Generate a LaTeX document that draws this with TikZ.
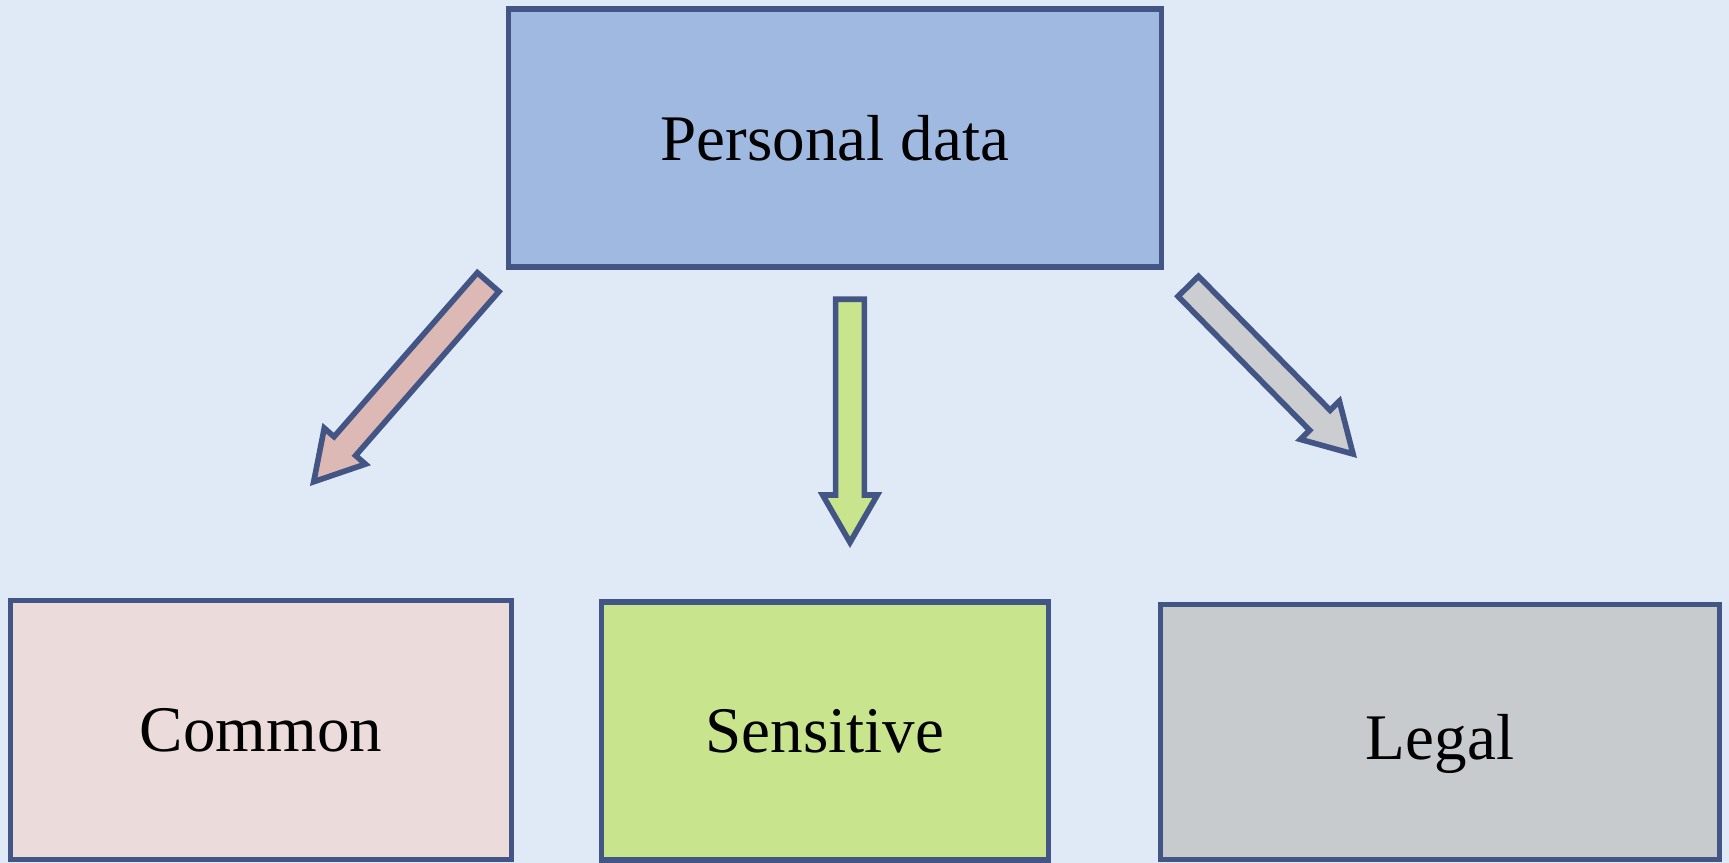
\documentclass[tikz,border=0pt]{standalone}
\usepackage{fontspec}
\setmainfont{Liberation Serif}
\usetikzlibrary{shapes.arrows}

\definecolor{edgeblue}{RGB}{67,85,132}
\definecolor{paper}{RGB}{224,234,247}
\definecolor{topfill}{RGB}{160,185,225}
\definecolor{commonfill}{RGB}{235,219,219}
\definecolor{commonarrow}{RGB}{221,185,181}
\definecolor{sensfill}{RGB}{200,228,140}
\definecolor{legalfill}{RGB}{200,203,206}
\definecolor{legalarrow}{RGB}{203,205,208}

\begin{document}
\begin{tikzpicture}[x=0.01cm, y=-0.01cm,
        cat_box/.style={rectangle, draw=edgeblue, line width=1.5pt, inner sep=0pt,
            font=\fontsize{18.5}{21}\selectfont},
        block_arrow/.style={single arrow, draw=edgeblue, line width=1.6pt, inner xsep=0pt, inner ysep=0.115cm,
            minimum width=0.49cm, single arrow head extend=0.13cm, single arrow tip angle=60, anchor=tip},]

        % Background
        \fill[paper] (0,0) rectangle (1729,863);
        \useasboundingbox (0,0) rectangle (1729,863);

        % Boxes
        \node[cat_box, fill=topfill, minimum width=6.52cm, minimum height=2.58cm] (personal) at (835,138) {Personal data};
        \node[cat_box, fill=commonfill, minimum width=5.00cm, minimum height=2.59cm] (common) at (261,730) {Common};
        \node[cat_box, fill=sensfill, minimum width=4.47cm, minimum height=2.58cm] (sensitive) at (825,731) {Sensitive};
        \node[cat_box, fill=legalfill, minimum width=5.59cm, minimum height=2.55cm,
            text height=0.62cm, text depth=0.08cm] (legal) at (1440,732) {Legal};

        %Arrows
        \node[block_arrow, fill=commonarrow, minimum height=2.65cm, rotate=228.85] (toCommon) at (310,486) {};
        \node[block_arrow, fill=sensfill, minimum height=2.43cm, rotate=270] (toSensitive) at (850,548) {};
        \node[block_arrow, fill=legalarrow, minimum height=2.35cm, rotate=314.5] (toLegal) at (1357,458) {};
    \end{tikzpicture}
\end{document}
